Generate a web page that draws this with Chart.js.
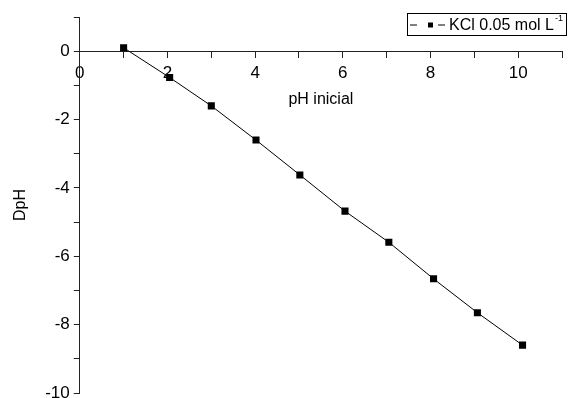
<!DOCTYPE html>
<html>
<head>
<meta charset="utf-8">
<script src="https://cdn.jsdelivr.net/npm/chart.js@4/dist/chart.umd.min.js"></script>
<style>
  html, body { margin: 0; padding: 0; background: #fff; }
  #wrap { width: 568px; height: 398px; }
</style>
</head>
<body>
<div id="wrap"><canvas id="dphChart"></canvas></div>
<script>
const phInicial = [1.0, 2.05, 3.0, 4.02, 5.02, 6.05, 7.05, 8.07, 9.07, 10.1];
const deltaPh = [0.1, -0.77, -1.6, -2.6, -3.62, -4.68, -5.59, -6.66, -7.65, -8.6];
const seriesLabel = 'KCl 0.05 mol L';
const seriesSup = '-1';
const xTitle = 'pH inicial';
const yTitle = 'DpH';

const FONT = 'Liberation Sans, Arial, sans-serif';

// legend box like the original (line - square - line, superscript unit)
const boxLegend = {
  id: 'boxLegend',
  afterDraw(chart) {
    const ctx = chart.ctx;
    const x0 = 407, y0 = 13, w = 160, h = 23;
    ctx.save();
    ctx.fillStyle = '#fff';
    ctx.fillRect(x0, y0, w, h);
    ctx.strokeStyle = '#000';
    ctx.lineWidth = 1;
    ctx.strokeRect(x0 + 0.5, y0 + 0.5, w - 1, h - 1);
    const cy = y0 + h / 2 + 0.5;
    ctx.beginPath();
    ctx.moveTo(x0 + 3, cy); ctx.lineTo(x0 + 10, cy);
    ctx.moveTo(x0 + 31, cy); ctx.lineTo(x0 + 38, cy);
    ctx.stroke();
    ctx.fillStyle = '#000';
    ctx.fillRect(x0 + 21, cy - 2.5, 5, 5);
    ctx.font = '16px ' + FONT;
    ctx.textBaseline = 'middle';
    ctx.fillText(seriesLabel, x0 + 42, cy + 1);
    const tw = ctx.measureText(seriesLabel).width;
    ctx.font = '9px ' + FONT;
    ctx.fillText(seriesSup, x0 + 43 + tw, cy - 6);
    ctx.restore();
  }
};

const ctx = document.getElementById('dphChart').getContext('2d');
new Chart(ctx, {
  type: 'line',
  data: {
    datasets: [{
      label: seriesLabel,
      data: phInicial.map((x, i) => ({ x: x, y: deltaPh[i] })),
      borderColor: '#000',
      borderWidth: 1,
      backgroundColor: '#000',
      pointStyle: 'rect',
      pointRadius: 5,
      pointBorderWidth: 0,
      tension: 0
    }]
  },
  options: {
    responsive: true,
    maintainAspectRatio: false,
    animation: false,
    layout: { padding: { left: 11, right: 5, top: 17, bottom: 4 } },
    plugins: { legend: { display: false }, tooltip: { enabled: false } },
    scales: {
      x: {
        type: 'linear',
        position: { y: 0 },
        min: 0, max: 11,
        border: { color: '#222', width: 1 },
        grid: { drawOnChartArea: false, color: '#222', tickLength: 6 },
        ticks: {
          stepSize: 1, color: '#000', padding: 6,
          font: { family: FONT, size: 17 },
          maxRotation: 0,
          callback: v => (v % 2 === 0 ? String(v) : '')
        },
        title: { display: true, text: xTitle, color: '#000', padding: { top: 0 }, font: { family: FONT, size: 16 } }
      },
      y: {
        type: 'linear',
        position: 'left',
        min: -10, max: 1,
        border: { color: '#222', width: 1 },
        grid: { drawOnChartArea: false, color: '#222', tickLength: 6 },
        ticks: {
          stepSize: 1, color: '#000', padding: 4,
          font: { family: FONT, size: 17 },
          callback: v => (v % 2 === 0 ? String(v) : '')
        },
        afterFit: s => { s.paddingTop = 0; s.paddingBottom = 0; },
        title: { display: true, text: yTitle, color: '#000', padding: { top: 0, bottom: 11 }, font: { family: FONT, size: 16 } }
      }
    }
  },
  plugins: [boxLegend]
});
</script>
</body>
</html>
